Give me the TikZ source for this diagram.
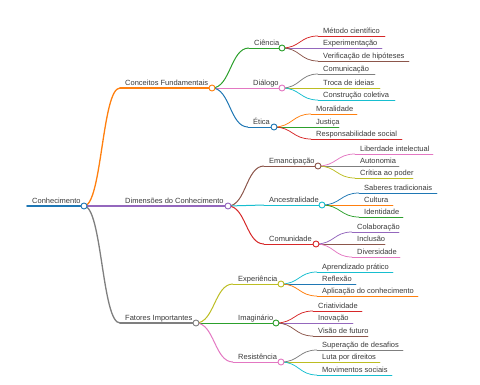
\documentclass[tikz,border=0pt]{standalone}
\usepackage{fontspec}
\setmainfont{Liberation Sans}
\usetikzlibrary{calc}
\definecolor{cblue}{HTML}{1F77B4}
\definecolor{corange}{HTML}{FF7F0E}
\definecolor{cgreen}{HTML}{2CA02C}
\definecolor{cred}{HTML}{D62728}
\definecolor{cpurple}{HTML}{9467BD}
\definecolor{cbrown}{HTML}{8C564B}
\definecolor{cpink}{HTML}{E377C2}
\definecolor{cgray}{HTML}{7F7F7F}
\definecolor{colive}{HTML}{BCBD22}
\definecolor{ccyan}{HTML}{17BECF}
\definecolor{ctext}{HTML}{3A3A3A}
\tikzset{
  txt/.style={inner sep=0pt, anchor=base west, text=ctext, font=\fontsize{7.5}{9}\selectfont},
  dot/.style={circle, draw, fill=white, minimum size=6pt, inner sep=0pt, line width=0.9pt},
  lw0/.style={line width=1.7pt},
  lw1/.style={line width=1.3pt},
  lw2/.style={line width=1.0pt},
  lw3/.style={line width=0.75pt},
}
% name, line start x, line end x, y, text
\newcommand\mmnode[5]{%
  \coordinate (#1-s) at (#2,#4);
  \coordinate (#1-e) at (#3,#4);
  \node[txt] (#1) at (#2+5,#4-2.5) {#5};
}
% name, color, width style
\newcommand\mmline[3]{\draw[#2,#3,line cap=round] (#1-s) -- (#1-e);}
% parent, child, color, width style
\newcommand\mmlink[4]{%
  \draw[#3,#4] let \p1=(#1-e), \p2=(#2-s) in
    (\p1) .. controls ({0.5*\x1+0.5*\x2},\y1) and ({0.5*\x1+0.5*\x2},\y2) .. (\p2);}
\newcommand\mmdot[2]{\node[dot,draw=#2] (#1-c) at (#1-e) {};}
\begin{document}
\begin{tikzpicture}[x=1pt,y=-1pt]
\useasboundingbox (0,0) rectangle (480,384);
% nodes
\mmnode{R}{27}{84}{206}{Conhecimento}
\mmnode{A}{120}{212}{88}{Conceitos Fundamentais}
\mmnode{B}{120}{228}{206}{Dimensões do Conhecimento}
\mmnode{C}{120}{196}{323}{Fatores Importantes}
\mmnode{A1}{249}{282}{48}{Ciência}
\mmnode{A2}{248}{282}{88}{Diálogo}
\mmnode{A3}{248}{274}{127}{Ética}
\mmnode{B1}{264}{318}{166}{Emancipação}
\mmnode{B2}{264}{322}{205}{Ancestralidade}
\mmnode{B3}{264}{316}{244}{Comunidade}
\mmnode{C1}{233}{281}{284}{Experiência}
\mmnode{C2}{233}{276}{323}{Imaginário}
\mmnode{C3}{233}{281}{362}{Resistência}
% leaves
\mmnode{A11}{318}{385}{36}{Método científico}
\mmnode{A12}{318}{382}{48}{Experimentação}
\mmnode{A13}{318}{409}{61}{Verificação de hipóteses}
\mmnode{A21}{318}{375}{74}{Comunicação}
\mmnode{A22}{318}{380}{88}{Troca de ideias}
\mmnode{A23}{318}{395}{100}{Construção coletiva}
\mmnode{A31}{311}{357}{114}{Moralidade}
\mmnode{A32}{311}{339}{127}{Justiça}
\mmnode{A33}{311}{402}{139}{Responsabilidade social}
\mmnode{B11}{355}{433}{154}{Liberdade intelectual}
\mmnode{B12}{355}{399}{166}{Autonomia}
\mmnode{B13}{355}{413}{178}{Crítica ao poder}
\mmnode{B21}{359}{437}{193}{Saberes tradicionais}
\mmnode{B22}{359}{393}{205}{Cultura}
\mmnode{B23}{359}{403}{217}{Identidade}
\mmnode{B31}{352}{399}{232}{Colaboração}
\mmnode{B32}{352}{385}{244}{Inclusão}
\mmnode{B33}{352}{400}{257}{Diversidade}
\mmnode{C11}{317}{393}{272}{Aprendizado prático}
\mmnode{C12}{317}{356}{284}{Reflexão}
\mmnode{C13}{317}{418}{296}{Aplicação do conhecimento}
\mmnode{C21}{313}{362}{311}{Criatividade}
\mmnode{C22}{313}{353}{323}{Inovação}
\mmnode{C23}{313}{368}{336}{Visão de futuro}
\mmnode{C31}{317}{403}{350}{Superação de desafios}
\mmnode{C32}{317}{380}{362}{Luta por direitos}
\mmnode{C33}{317}{392}{375}{Movimentos sociais}
% links
\mmlink{R}{A}{corange}{lw1}
\mmlink{R}{B}{cpurple}{lw1}
\mmlink{R}{C}{cgray}{lw1}
\mmlink{A}{A1}{cgreen}{lw2}
\mmlink{A}{A2}{cpink}{lw2}
\mmlink{A}{A3}{cblue}{lw2}
\mmlink{B}{B1}{cbrown}{lw2}
\mmlink{B}{B2}{ccyan}{lw2}
\mmlink{B}{B3}{cred}{lw2}
\mmlink{C}{C1}{colive}{lw2}
\mmlink{C}{C2}{cgreen}{lw2}
\mmlink{C}{C3}{cpink}{lw2}
\mmlink{A1}{A11}{cred}{lw3}
\mmlink{A1}{A12}{cpurple}{lw3}
\mmlink{A1}{A13}{cbrown}{lw3}
\mmlink{A2}{A21}{cgray}{lw3}
\mmlink{A2}{A22}{colive}{lw3}
\mmlink{A2}{A23}{ccyan}{lw3}
\mmlink{A3}{A31}{corange}{lw3}
\mmlink{A3}{A32}{cgreen}{lw3}
\mmlink{A3}{A33}{cred}{lw3}
\mmlink{B1}{B11}{cpink}{lw3}
\mmlink{B1}{B12}{cgray}{lw3}
\mmlink{B1}{B13}{colive}{lw3}
\mmlink{B2}{B21}{cblue}{lw3}
\mmlink{B2}{B22}{corange}{lw3}
\mmlink{B2}{B23}{cgreen}{lw3}
\mmlink{B3}{B31}{cpurple}{lw3}
\mmlink{B3}{B32}{cbrown}{lw3}
\mmlink{B3}{B33}{cpink}{lw3}
\mmlink{C1}{C11}{ccyan}{lw3}
\mmlink{C1}{C12}{cblue}{lw3}
\mmlink{C1}{C13}{corange}{lw3}
\mmlink{C2}{C21}{cred}{lw3}
\mmlink{C2}{C22}{cpurple}{lw3}
\mmlink{C2}{C23}{cbrown}{lw3}
\mmlink{C3}{C31}{cgray}{lw3}
\mmlink{C3}{C32}{colive}{lw3}
\mmlink{C3}{C33}{ccyan}{lw3}
% underlines
\mmline{R}{cblue}{lw0}
\mmline{A}{corange}{lw1}
\mmline{B}{cpurple}{lw1}
\mmline{C}{cgray}{lw1}
\mmline{A1}{cgreen}{lw2}
\mmline{A2}{cpink}{lw2}
\mmline{A3}{cblue}{lw2}
\mmline{B1}{cbrown}{lw2}
\mmline{B2}{ccyan}{lw2}
\mmline{B3}{cred}{lw2}
\mmline{C1}{colive}{lw2}
\mmline{C2}{cgreen}{lw2}
\mmline{C3}{cpink}{lw2}
\mmline{A11}{cred}{lw3}
\mmline{A12}{cpurple}{lw3}
\mmline{A13}{cbrown}{lw3}
\mmline{A21}{cgray}{lw3}
\mmline{A22}{colive}{lw3}
\mmline{A23}{ccyan}{lw3}
\mmline{A31}{corange}{lw3}
\mmline{A32}{cgreen}{lw3}
\mmline{A33}{cred}{lw3}
\mmline{B11}{cpink}{lw3}
\mmline{B12}{cgray}{lw3}
\mmline{B13}{colive}{lw3}
\mmline{B21}{cblue}{lw3}
\mmline{B22}{corange}{lw3}
\mmline{B23}{cgreen}{lw3}
\mmline{B31}{cpurple}{lw3}
\mmline{B32}{cbrown}{lw3}
\mmline{B33}{cpink}{lw3}
\mmline{C11}{ccyan}{lw3}
\mmline{C12}{cblue}{lw3}
\mmline{C13}{corange}{lw3}
\mmline{C21}{cred}{lw3}
\mmline{C22}{cpurple}{lw3}
\mmline{C23}{cbrown}{lw3}
\mmline{C31}{cgray}{lw3}
\mmline{C32}{colive}{lw3}
\mmline{C33}{ccyan}{lw3}
% circles
\mmdot{R}{cblue}
\mmdot{A}{corange}
\mmdot{B}{cpurple}
\mmdot{C}{cgray}
\mmdot{A1}{cgreen}
\mmdot{A2}{cpink}
\mmdot{A3}{cblue}
\mmdot{B1}{cbrown}
\mmdot{B2}{ccyan}
\mmdot{B3}{cred}
\mmdot{C1}{colive}
\mmdot{C2}{cgreen}
\mmdot{C3}{cpink}
\end{tikzpicture}
\end{document}
